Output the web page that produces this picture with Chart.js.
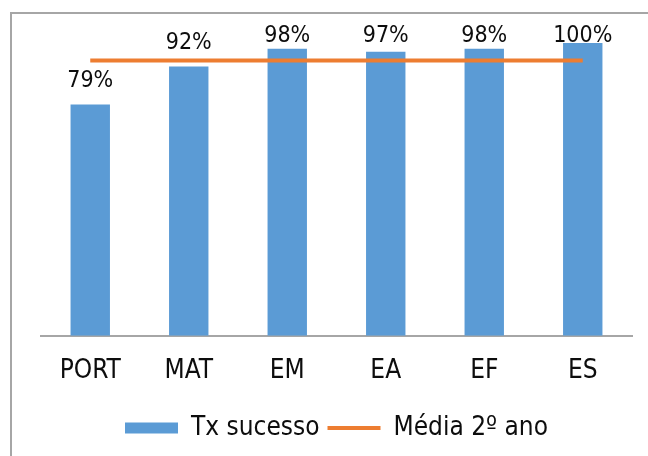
<!DOCTYPE html>
<html lang="pt">
<head>
    <meta charset="UTF-8">
    <title>Tx sucesso - 2º ano</title>
    <script src="https://cdn.jsdelivr.net/npm/chart.js"></script>
    <style>
        html, body {
            margin: 0;
            padding: 0;
            background: #fff;
            overflow: hidden;
        }
        #wrap {
            position: relative;
            width: 648px;
            height: 456px;
        }
        #frame {
            position: absolute;
            left: 10px;
            top: 12px;
            width: 660px;
            height: 470px;
            border: 2px solid #a6a6a6;
            pointer-events: none;
        }
        #chart {
            position: absolute;
            left: 0;
            top: 0;
        }
    </style>
</head>
<body>
    <div id="wrap">
        <div id="frame"></div>
        <canvas id="chart" width="648" height="456"></canvas>
    </div>

    <script>
        // dados do gráfico
        const disciplinas = ['PORT', 'MAT', 'EM', 'EA', 'EF', 'ES'];
        const txSucesso = [79, 92, 98, 97, 98, 100];
        const media2ano = [94, 94, 94, 94, 94, 94];

        const fonte = '"DejaVu Sans Condensed", "DejaVu Sans", sans-serif';

        // etiquetas de percentagem por cima das barras
        const etiquetas = {
            id: 'etiquetas',
            afterDatasetsDraw(chart) {
                const ctx = chart.ctx;
                const meta = chart.getDatasetMeta(1);   // dataset das barras
                ctx.save();
                ctx.fillStyle = '#0d0d0d';
                ctx.font = '23px ' + fonte;
                ctx.textAlign = 'center';
                ctx.textBaseline = 'alphabetic';
                meta.data.forEach((bar, i) => {
                    // acima da barra, mas sem sair do topo
                    const y = Math.max(bar.y - 17, 42);
                    ctx.fillText(txSucesso[i] + '%', bar.x, y);
                });
                ctx.restore();
            }
        };

        const ctx = document.getElementById('chart').getContext('2d');
        new Chart(ctx, {
            data: {
                labels: disciplinas,
                datasets: [{
                    type: 'line',
                    label: 'Média 2º ano',
                    data: media2ano,
                    borderColor: '#ED7D31',
                    backgroundColor: '#ED7D31',
                    borderWidth: 4,
                    pointRadius: 0,
                    pointStyle: 'line',
                    order: 0
                }, {
                    type: 'bar',
                    label: 'Tx sucesso',
                    data: txSucesso,
                    backgroundColor: '#5B9BD5',
                    borderWidth: 0,
                    barPercentage: 0.4,
                    categoryPercentage: 1,
                    pointStyle: 'rect',
                    order: 1
                }]
            },
            options: {
                responsive: false,
                animation: false,
                layout: {
                    padding: { top: 43, left: 41, right: 16, bottom: 5 }
                },
                plugins: {
                    tooltip: { enabled: false },
                    legend: {
                        position: 'bottom',
                        reverse: true,
                        labels: {
                            usePointStyle: true,
                            pointStyleWidth: 53,
                            boxHeight: 11,
                            padding: 8,
                            color: '#0d0d0d',
                            font: { family: fonte, size: 26 }
                        }
                    }
                },
                scales: {
                    x: {
                        grid: { display: false, drawTicks: false },
                        border: { display: true, color: '#a6a6a6', width: 2 },
                        ticks: {
                            color: '#0d0d0d',
                            padding: 20,
                            font: { family: fonte, size: 26 }
                        }
                    },
                    y: {
                        display: false,
                        min: 0,
                        max: 100
                    }
                }
            },
            plugins: [etiquetas]
        });
    </script>
</body>
</html>
